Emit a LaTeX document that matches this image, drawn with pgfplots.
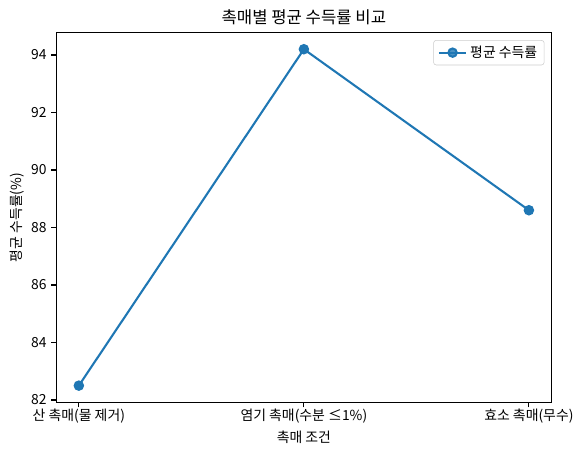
\documentclass[border=0pt]{standalone}
\usepackage{fontspec}
\setmainfont{Noto Sans CJK KR}
\usepackage{pgfplots}
\pgfplotsset{compat=1.18}
\definecolor{mplblue}{HTML}{1F77B4}
\begin{document}
\begin{tikzpicture}
\begin{axis}[
    scale only axis,
    width=356.4pt, height=266.4pt,
    title={\large 촉매별 평균 수득률 비교},
    title style={yshift=-4pt},
    xlabel={촉매 조건},
    ylabel={평균 수득률(\%)},
    xmin=-0.1, xmax=2.1,
    ymin=81.915, ymax=94.785,
    xtick={0,1,2},
    xticklabels={산 촉매(물 제거), 염기 촉매(수분 ≤1\%), 효소 촉매(무수)},
    xticklabel style={yshift=2pt},
    xlabel style={yshift=1.5pt},
    ylabel style={yshift=-2pt},
    ytick={82,84,86,88,90,92,94},
    tick align=outside,
    tick pos=left,
    major tick length=3.5pt,
    every tick/.style={black, line width=0.8pt},
    axis line style={line width=0.8pt},
    /pgf/number format/assume math mode=true,
    legend cell align=left,
    legend style={at={(1,1)}, anchor=north east, xshift=-5pt, yshift=-5.5pt,
        draw=black!20, rounded corners=2pt, fill=white, fill opacity=0.8, text opacity=1},
    legend image code/.code={
        \draw[mark repeat=2, mark phase=2, #1] plot coordinates {(0cm,0cm) (0.35cm,0cm) (0.7cm,0cm)};
    },
]
\addplot[color=mplblue, line width=1.5pt, mark=*, mark size=3pt, mark options={solid}]
    coordinates {(0,82.5) (1,94.2) (2,88.6)};
\addlegendentry{평균 수득률}
\end{axis}
\path ([shift={(-4pt,-3.5pt)}]current bounding box.south west)
      ([shift={(3.5pt,3.5pt)}]current bounding box.north east);
\end{tikzpicture}
\end{document}
